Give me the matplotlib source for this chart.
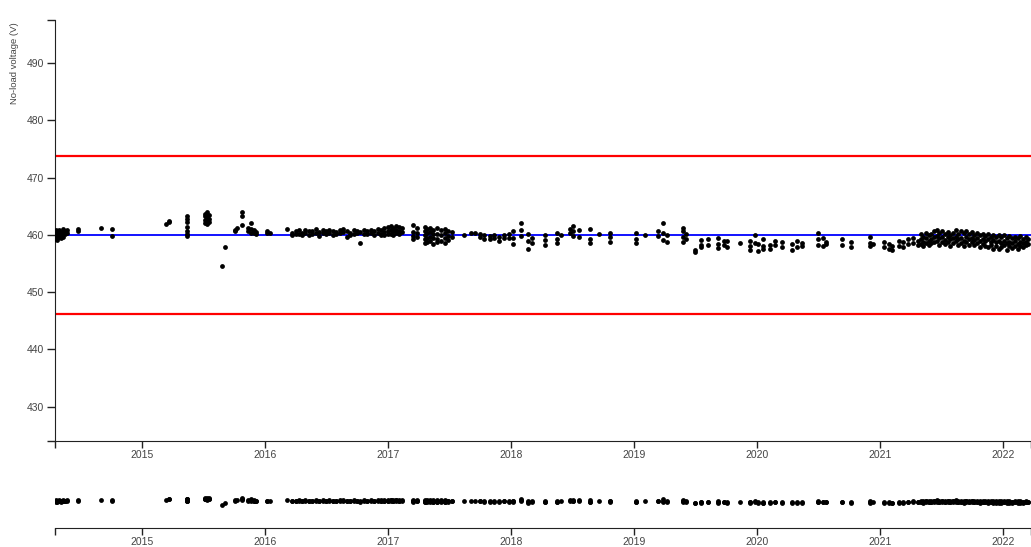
#!/usr/bin/env python3

import matplotlib.dates as mdates
import matplotlib.pyplot as plt
import numpy as np
from matplotlib.ticker import FixedLocator

# measurement visits and the no-load voltages read at each one
visit_dates = [
    "2014-04-20", "2014-04-24", "2014-04-29", "2014-05-04", "2014-05-10",
    "2014-05-16", "2014-05-22", "2014-06-25", "2014-09-01", "2014-10-02",
    "2015-03-14", "2015-03-22", "2015-05-14", "2015-07-08", "2015-07-13",
    "2015-07-17", "2015-08-25", "2015-09-05", "2015-10-03", "2015-10-10",
    "2015-10-23", "2015-11-12", "2015-11-20", "2015-11-28", "2015-12-06",
    "2016-01-08", "2016-01-15", "2016-03-05", "2016-03-20", "2016-04-01",
    "2016-04-10", "2016-04-20", "2016-04-30", "2016-05-10", "2016-05-20",
    "2016-05-30", "2016-06-10", "2016-06-20", "2016-06-30", "2016-07-10",
    "2016-07-20", "2016-07-30", "2016-08-10", "2016-08-20", "2016-08-30",
    "2016-09-10", "2016-09-20", "2016-09-30", "2016-10-10", "2016-10-20",
    "2016-10-30", "2016-11-10", "2016-11-20", "2016-11-30", "2016-12-10",
    "2016-12-20", "2016-12-30", "2017-01-08", "2017-01-16", "2017-01-24",
    "2017-02-02", "2017-02-10", "2017-03-15", "2017-03-28", "2017-04-20",
    "2017-04-27", "2017-05-05", "2017-05-15", "2017-05-25", "2017-06-08",
    "2017-06-18", "2017-06-28", "2017-07-10", "2017-08-14", "2017-09-05",
    "2017-09-15", "2017-10-01", "2017-10-12", "2017-10-30", "2017-11-10",
    "2017-11-25", "2017-12-10", "2017-12-25", "2018-01-05", "2018-01-30",
    "2018-02-20", "2018-03-05", "2018-04-12", "2018-05-18", "2018-05-28",
    "2018-06-25", "2018-07-05", "2018-07-20", "2018-08-22", "2018-09-20",
    "2018-10-22", "2019-01-08", "2019-02-02", "2019-03-12", "2019-03-28",
    "2019-04-10", "2019-05-25", "2019-06-03", "2019-07-01", "2019-07-20",
    "2019-08-08", "2019-09-06", "2019-09-25", "2019-10-05", "2019-11-12",
    "2019-12-10", "2019-12-25", "2020-01-05", "2020-01-20", "2020-02-10",
    "2020-02-25", "2020-03-15", "2020-04-15", "2020-04-28", "2020-05-15",
    "2020-07-01", "2020-07-15", "2020-07-25", "2020-09-10", "2020-10-05",
    "2020-12-03", "2020-12-12", "2021-01-12", "2021-01-28", "2021-02-05",
    "2021-02-25", "2021-03-10", "2021-03-25", "2021-04-08", "2021-04-22",
    "2021-05-01", "2021-05-09", "2021-05-17", "2021-05-25", "2021-06-02",
    "2021-06-10", "2021-06-18", "2021-06-26", "2021-07-04", "2021-07-12",
    "2021-07-20", "2021-07-28", "2021-08-05", "2021-08-13", "2021-08-21",
    "2021-08-29", "2021-09-06", "2021-09-14", "2021-09-22", "2021-09-30",
    "2021-10-08", "2021-10-16", "2021-10-24", "2021-11-01", "2021-11-09",
    "2021-11-17", "2021-11-25", "2021-12-03", "2021-12-11", "2021-12-19",
    "2021-12-27", "2022-01-04", "2022-01-12", "2022-01-20", "2022-01-28",
    "2022-02-05", "2022-02-13", "2022-02-21", "2022-03-01", "2022-03-09",
    "2022-03-17", "2022-03-23",
]
visit_volts = [
    [460.4, 459.8, 459.3, 460.9], [460.6, 460.0, 459.5, 459.1],
    [460.8, 460.2, 459.6], [460.5, 459.9, 459.4], [461.0, 460.3, 459.7],
    [460.7, 460.1], [460.9, 460.4], [461.0, 460.6], [461.2], [461.0, 459.8],
    [461.9], [462.2, 462.4], [463.2, 462.7, 462.2, 461.3, 460.6, 460.1, 459.8],
    [463.7, 463.2, 462.6, 462.1], [463.9, 463.4, 462.9, 462.3, 461.8],
    [463.5, 462.8, 462.2], [454.5], [457.9], [460.9, 460.6], [461.1],
    [464.0, 463.3, 461.7], [461.2, 460.6], [462.1, 461.0, 460.4],
    [460.7, 460.3, 460.9], [460.5, 460.2],
    [460.6, 460.3], [460.4], [461.0], [460.3, 460.0], [460.6, 460.2],
    [460.8, 460.1], [460.4, 459.9], [460.9, 460.3], [460.6, 460.0],
    [460.7, 460.2], [461.0, 460.4], [460.5, 459.8], [460.8, 460.3],
    [460.6, 460.1], [460.9, 460.4], [460.7, 460.0], [460.5, 460.2],
    [460.8, 460.3], [461.0, 460.5], [460.6, 459.7], [460.4, 460.0],
    [460.9, 460.2], [460.7, 460.3], [460.5, 458.6], [460.8, 460.1],
    [460.6, 460.2], [460.9, 460.4], [460.7, 460.0], [461.0, 460.3],
    [460.8, 460.2, 459.9], [461.1, 460.5, 460.0], [461.3, 460.6, 460.1],
    [461.5, 460.8, 460.2], [461.2, 460.6, 459.9], [461.6, 460.9, 460.3],
    [461.4, 460.7, 460.1], [461.1, 460.5],
    [461.7, 460.5, 459.8, 459.3], [461.2, 460.4, 459.6],
    [461.4, 460.6, 460.0, 459.2, 458.5], [461.0, 460.3, 459.5, 458.8],
    [461.2, 460.5, 459.7, 458.9], [460.8, 460.1, 459.4, 458.4],
    [461.1, 460.2, 459.3, 458.7], [460.9, 460.0, 459.0],
    [461.0, 460.3, 459.4, 458.6], [460.7, 459.8, 459.1], [460.5, 459.6],
    [460.0], [460.4], [460.3], [460.1, 459.7], [459.9, 459.2],
    [459.8, 459.3], [460.0, 459.4], [459.6, 458.9], [459.9, 459.5],
    [460.2, 459.4], [460.6, 459.5, 458.4], [462.1, 460.8, 459.8],
    [460.1, 459.0, 457.5], [459.5, 458.6], [460.0, 459.1, 458.3],
    [460.4, 459.3, 458.6], [460.0], [461.0, 460.3], [461.5, 460.7, 459.8],
    [460.9, 459.6], [461.0, 459.2, 458.6], [460.1], [460.4, 459.6, 458.8],
    [460.3, 459.3, 458.6], [460.0], [460.6, 459.8], [462.1, 460.4, 459.1],
    [459.9, 458.7], [461.2, 460.6, 459.6, 458.7], [460.2, 459.2],
    [457.3, 457.0], [459.1, 458.3, 457.8], [459.2, 458.2],
    [459.5, 458.4, 457.7], [459.0, 458.2], [458.9, 457.8], [458.6],
    [458.9, 458.1, 457.4], [460.0, 458.6], [458.4, 457.2],
    [459.2, 458.0, 457.6], [458.3, 457.5], [459.0, 458.2], [458.7, 457.9],
    [458.4, 457.3], [458.9, 457.9], [458.5, 458.0], [460.4, 459.2, 458.3],
    [459.4, 458.1], [458.8, 458.4], [459.2, 458.3], [458.8, 457.9],
    [459.7, 458.6, 458.0], [458.4], [458.7, 457.9], [458.4, 457.6],
    [458.0, 457.3], [459.0, 458.0], [458.7, 457.8], [459.3, 458.4],
    [459.5, 458.6], [459.0, 458.2],
    [460.1, 459.2, 458.4], [459.7, 458.8, 458.0], [460.4, 459.5, 458.6],
    [459.9, 459.0, 458.2], [460.2, 459.3, 458.5], [460.6, 459.6, 458.7],
    [460.9, 459.8, 458.9], [460.3, 459.4, 458.3], [460.7, 459.7, 458.8],
    [460.2, 459.1, 458.4], [460.5, 459.6, 458.7], [460.0, 459.2, 458.1],
    [460.4, 459.5, 458.6], [460.8, 459.7, 458.9], [460.1, 459.3, 458.2],
    [460.6, 459.4, 458.5], [460.3, 459.0, 458.0], [460.7, 459.6, 458.8],
    [460.2, 459.3, 458.3], [460.5, 459.5, 458.7], [460.0, 459.1, 458.2],
    [460.3, 459.4, 458.5], [459.9, 459.0, 457.9], [460.2, 459.2, 458.4],
    [459.8, 458.9, 458.1], [460.1, 459.3, 457.8], [459.7, 458.8, 458.2],
    [460.0, 459.1, 457.6], [459.6, 458.7, 458.0], [459.9, 459.0, 457.5],
    [459.7, 458.6, 457.9], [460.0, 458.9, 458.2], [459.5, 458.5, 457.4],
    [459.8, 458.8, 458.0], [459.4, 458.6, 457.7], [459.7, 458.9, 458.1],
    [459.5, 458.4, 457.6], [459.8, 458.7, 458.0], [459.3, 458.5, 457.8],
    [459.6, 458.8, 458.2], [459.2, 458.4],
]

nominal_voltage = 460.0
upper_limit = 473.8
lower_limit = 446.2

x_start = "2014-04-17"
x_end = "2022-03-25"
y_range = (424.0, 497.5)
y_ticks = [430, 440, 450, 460, 470, 480, 490]

TEXT = "#444444"
AXIS = "#222222"


def style_axis(ax, xlim, show_y):
    for side in ("top", "right"):
        ax.spines[side].set_visible(False)
    ax.spines["bottom"].set_color(AXIS)
    ax.spines["left"].set_color(AXIS)
    ax.spines["left"].set_visible(show_y)

    ax.xaxis.set_major_locator(mdates.YearLocator())
    ax.xaxis.set_major_formatter(mdates.DateFormatter("%Y"))
    # outer ticks at the ends of the domain, like a d3 axis
    ax.xaxis.set_minor_locator(FixedLocator(list(xlim)))
    ax.tick_params(axis="x", which="both", length=5, width=1, color=AXIS,
                   labelsize=7.5, labelcolor=TEXT, pad=1.5)
    if show_y:
        ax.set_yticks(y_ticks)
        ax.yaxis.set_minor_locator(FixedLocator(list(y_range)))
        ax.tick_params(axis="y", which="both", length=6, width=1, color=AXIS,
                       labelsize=7.5, labelcolor=TEXT, pad=2)
    else:
        ax.set_yticks([])


def main() -> None:
    plt.rcParams["font.family"] = ["Liberation Sans", "DejaVu Sans"]

    xs = []
    ys = []
    for d, vals in zip(visit_dates, visit_volts):
        for v in vals:
            xs.append(np.datetime64(d))
            ys.append(v)
    xs = mdates.date2num(np.array(xs, dtype="datetime64[D]"))
    ys = np.array(ys)

    xlim = (mdates.datestr2num(x_start), mdates.datestr2num(x_end))

    fig = plt.figure(figsize=(10.31, 5.47), dpi=100)
    ax = fig.add_axes((55 / 1031, 1 - 441 / 547, 1 - 55 / 1031, 421 / 547))
    ax2 = fig.add_axes((55 / 1031, 1 - 528 / 547, 1 - 55 / 1031, 55 / 547))

    ax.axhline(upper_limit, color="#ff0000", lw=1.6, zorder=1)
    ax.axhline(lower_limit, color="#ff0000", lw=1.6, zorder=1)
    ax.axhline(nominal_voltage, color="#0000ff", lw=1.3, zorder=1)
    ax.scatter(xs, ys, s=12, color="black", linewidths=0, zorder=3)

    ax.set_xlim(xlim)
    ax.set_ylim(y_range)
    style_axis(ax, xlim, True)

    ax2.scatter(xs, ys, s=12, color="black", linewidths=0, zorder=3)
    ax2.set_xlim(xlim)
    ax2.set_ylim(y_range)
    style_axis(ax2, xlim, False)

    fig.text(15 / 1031, 1 - 22 / 547, "No-load voltage (V)", rotation=90,
             ha="center", va="top", fontsize=6.8, color=TEXT)

    fig.savefig("out.png", dpi=100)


if __name__ == "__main__":
    main()
